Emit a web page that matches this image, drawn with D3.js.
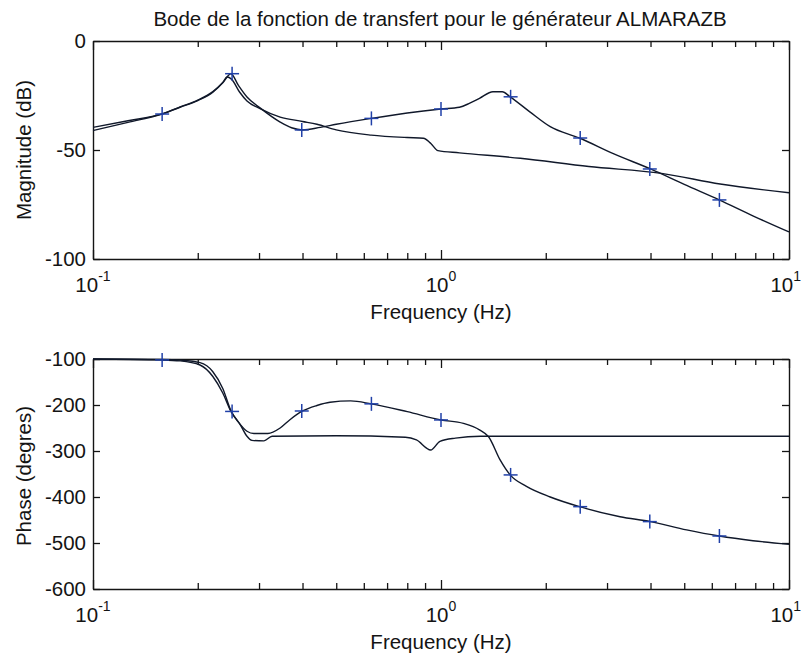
<!DOCTYPE html>
<html><head><meta charset="utf-8">
<script src="https://cdn.jsdelivr.net/npm/d3@7/dist/d3.min.js"></script>
<style>
html,body{margin:0;padding:0;background:#fff;}
svg{display:block;font-family:"Liberation Sans",Arial,sans-serif;}
</style></head>
<body><svg id="c" width="802" height="660"></svg>
<script>
const titleText = "Bode de la fonction de transfert pour le générateur ALMARAZB";
const xLabel = "Frequency (Hz)";
const magLabel = "Magnitude (dB)";
const phaseLabel = "Phase (degres)";
const magTicks = [0, -50, -100];
const phaseTicks = [-100, -200, -300, -400, -500, -600];
const decadeTicks = [0.1, 1, 10];
const decadeExp = ["-1", "0", "1"];

// magnitude, curve with markers
const magA = [[0.1,-41.1],[0.126,-37.3],[0.158,-33.5],[0.178,-30.2],[0.2,-27.1],[0.221,-23.2],[0.236,-19.2],[0.249,-15.0],[0.262,-20.5],[0.277,-25.7],[0.302,-30.7],[0.345,-37.2],[0.372,-39.8],[0.4,-40.8],[0.45,-39.6],[0.5,-38.2],[0.63,-35.5],[0.8,-33.0],[1.0,-31.2],[1.13,-30.4],[1.21,-28.5],[1.29,-26.3],[1.41,-23.3],[1.5,-23.3],[1.58,-25.6],[1.8,-32.5],[2.06,-39.3],[2.5,-44.5],[3.14,-51.8],[4.0,-58.7],[5.0,-65.8],[6.3,-72.9],[7.9,-80.3],[10,-87.6]];
// magnitude, plain curve
const magB = [[0.1,-39.6],[0.126,-36.6],[0.158,-33.4],[0.178,-30.4],[0.2,-27.3],[0.221,-23.5],[0.236,-19.0],[0.243,-16.5],[0.25,-17.5],[0.264,-23.5],[0.277,-27.5],[0.302,-31.0],[0.345,-34.9],[0.4,-36.9],[0.44,-38.2],[0.5,-40.8],[0.63,-43.2],[0.8,-44.3],[0.89,-44.6],[0.935,-47.0],[0.98,-50.3],[1.13,-51.3],[1.69,-53.8],[2.66,-57.6],[4.3,-60.7],[6.34,-65.6],[10,-69.6]];
// phase, curve with markers
const phaseA = [[0.1,-100],[0.158,-102],[0.178,-104],[0.203,-113],[0.221,-138],[0.236,-174],[0.249,-214],[0.261,-236],[0.277,-257],[0.29,-262],[0.318,-262],[0.345,-250],[0.368,-232],[0.4,-213],[0.44,-201],[0.48,-194],[0.55,-191],[0.63,-197.5],[0.8,-214.5],[1.0,-232.5],[1.16,-240],[1.29,-254],[1.37,-269],[1.48,-320],[1.58,-352],[1.76,-377],[2.06,-400],[2.5,-421],[3.27,-443],[4.0,-453.5],[5.08,-471.5],[6.3,-484.8],[7.88,-495],[10,-502.8]];
// phase, plain curve
const phaseB = [[0.1,-100],[0.158,-101],[0.178,-102.5],[0.203,-108],[0.221,-127.6],[0.236,-164],[0.249,-212],[0.265,-243],[0.277,-268],[0.286,-277],[0.31,-278],[0.327,-268],[0.5,-267],[0.79,-270],[0.85,-276],[0.934,-297.8],[0.993,-279],[1.1,-272],[1.3,-268],[10,-268]];
// markers on curve A
const markerFreq = [0.158,0.251,0.398,0.631,1.0,1.585,2.512,3.981,6.31];
const markerMag = [-33.5,-15.0,-40.8,-35.5,-31.2,-25.6,-44.5,-58.7,-72.9];
const markerPhase = [-102,-214,-213,-197.5,-232.5,-352,-421,-453.5,-484.8];

const svg = d3.select("#c");
const FS = 20.5;
const ink = "#141414";
const lineCol = "#10182a";
const markCol = "#2040a8";

const x = d3.scaleLog().domain([0.1, 10]).range([93, 789]);
const minorTicks = [];
for (const d of [0.1, 1]) for (let k = 1; k <= 9; k++) minorTicks.push(d * k);
minorTicks.push(10);

function panel(top, bottom, yDomain, yTicks, ylab, ylabY, seriesA, seriesB, markVals) {
  const y = d3.scaleLinear().domain(yDomain).range([bottom, top]);
  const g = svg.append("g");
  const styleAxis = sel => {
    sel.selectAll("path.domain").attr("stroke", ink).attr("stroke-width", 1.4);
    sel.selectAll(".tick line").attr("stroke", ink).attr("stroke-width", 1.3);
  };
  const isDecade = d => decadeTicks.some(v => Math.abs(v - d) < 1e-9);
  // bottom axis (ticks inward)
  const gb = g.append("g").attr("transform", `translate(0,${bottom})`)
    .call(d3.axisBottom(x).tickValues(minorTicks).tickSizeInner(-6).tickSizeOuter(0).tickFormat(""));
  styleAxis(gb);
  gb.selectAll(".tick line").filter(isDecade).attr("y2", -9);
  // top axis
  const gt = g.append("g").attr("transform", `translate(0,${top})`)
    .call(d3.axisTop(x).tickValues(minorTicks).tickSizeInner(-6).tickSizeOuter(0).tickFormat(""));
  styleAxis(gt);
  gt.selectAll(".tick line").filter(isDecade).attr("y2", 9);
  // left axis
  const gl = g.append("g").attr("transform", `translate(93,0)`)
    .call(d3.axisLeft(y).tickValues(yTicks).tickSizeInner(-7).tickSizeOuter(0).tickPadding(7)
      .tickFormat(d => String(d)));
  styleAxis(gl);
  gl.selectAll("text").attr("font-size", FS).attr("fill", ink)
    .attr("font-family", '"Liberation Sans",Arial,sans-serif');
  // right axis
  const gr = g.append("g").attr("transform", `translate(789,0)`)
    .call(d3.axisRight(y).tickValues(yTicks).tickSizeInner(-7).tickSizeOuter(0).tickFormat(""));
  styleAxis(gr);

  // x decade labels with superscripts
  decadeTicks.forEach((v, i) => {
    const last = i === decadeTicks.length - 1;
    const t = g.append("text").attr("x", last ? 801 : x(v)).attr("y", bottom + 33)
      .attr("text-anchor", last ? "end" : "middle").attr("fill", ink).attr("font-size", FS);
    t.append("tspan").text("10");
    t.append("tspan").attr("dy", -11).attr("font-size", 14).text(decadeExp[i]);
  });
  g.append("text").attr("x", 441).attr("y", bottom + 60).attr("text-anchor", "middle")
    .attr("fill", ink).attr("font-size", FS).text(xLabel);
  g.append("text").attr("transform", `translate(31,${ylabY}) rotate(-90)`)
    .attr("text-anchor", "middle").attr("fill", ink).attr("font-size", FS).text(ylab);

  const line = d3.line().x(d => x(d[0])).y(d => y(d[1])).curve(d3.curveMonotoneX);
  g.append("path").datum(seriesB).attr("d", line).attr("fill", "none")
    .attr("stroke", lineCol).attr("stroke-width", 1.4);
  g.append("path").datum(seriesA).attr("d", line).attr("fill", "none")
    .attr("stroke", lineCol).attr("stroke-width", 1.4);
  const s = 7;
  const m = g.append("g").selectAll("g").data(markerFreq.map((f, i) => [f, markVals[i]])).join("g")
    .attr("transform", d => `translate(${x(d[0])},${y(d[1])})`);
  m.append("line").attr("x1", -s).attr("x2", s).attr("stroke", markCol).attr("stroke-width", 1.5);
  m.append("line").attr("y1", -s).attr("y2", s).attr("stroke", markCol).attr("stroke-width", 1.5);
}

svg.append("text").attr("x", 440).attr("y", 26).attr("text-anchor", "middle")
  .attr("fill", ink).attr("font-size", FS).text(titleText);

panel(41, 259, [-100, 0], magTicks, magLabel, 150, magA, magB, markerMag);
panel(359, 589, [-600, -100], phaseTicks, phaseLabel, 476, phaseA, phaseB, markerPhase);
</script></body></html>
